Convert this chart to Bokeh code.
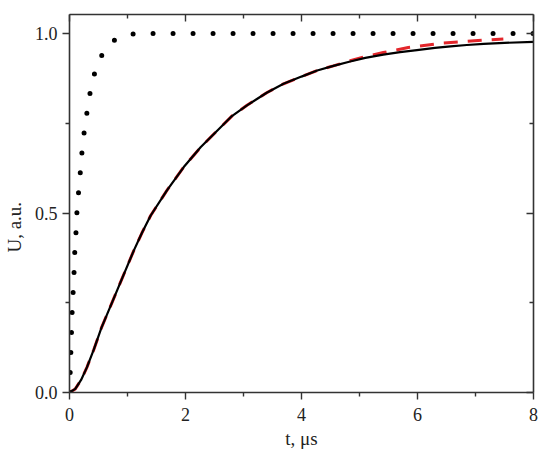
from bokeh.plotting import figure
from bokeh.models import LinearAxis, FixedTicker, Range1d, NumeralTickFormatter, CustomJSTickFormatter
from bokeh.embed import file_html
from bokeh.resources import INLINE

# fast response (dotted)
t_fast = [0, 0.017, 0.035, 0.046, 0.064, 0.08, 0.092, 0.115, 0.13, 0.16, 0.19, 0.22,
          0.26, 0.31, 0.37, 0.45, 0.58, 0.68, 0.8, 0.95, 1.14, 1.5, 2.0, 3.0, 4.0,
          5.0, 6.0, 7.0, 8.0]
u_fast = [0, 0.08, 0.173, 0.228, 0.284, 0.34, 0.398, 0.454, 0.51, 0.565, 0.62, 0.68,
          0.735, 0.79, 0.85, 0.90, 0.948, 0.968, 0.985, 0.995, 1.0, 1.0, 1.0, 1.0, 1.0,
          1.0, 1.0, 1.0, 1.0]

# measured signal (black)
t_meas = [0, 0.1, 0.2, 0.3, 0.42, 0.55, 0.76, 0.9, 1.11, 1.25, 1.4, 1.68, 1.97, 2.26,
          2.55, 2.8, 3.06, 3.4, 3.69, 4.0, 4.27, 4.55, 4.84, 5.1, 5.41, 5.7, 5.99, 6.3,
          6.57, 6.85, 7.14, 7.5, 8.0]
u_meas = [0, 0.01, 0.035, 0.07, 0.12, 0.18, 0.261, 0.315, 0.396, 0.445, 0.493, 0.563,
          0.628, 0.683, 0.73, 0.77, 0.80, 0.835, 0.86, 0.88, 0.897, 0.91, 0.922, 0.932,
          0.941, 0.948, 0.954, 0.96, 0.964, 0.968, 0.971, 0.974, 0.977]

# fitted curve (red dashed)
t_fit = [0, 0.1, 0.2, 0.3, 0.42, 0.55, 0.76, 0.9, 1.11, 1.25, 1.4, 1.68, 1.97, 2.26,
         2.55, 2.8, 3.06, 3.4, 3.69, 4.0, 4.27, 4.55, 4.84, 5.1, 5.41, 5.84, 6.41,
         6.98, 7.48]
u_fit = [0, 0.01, 0.035, 0.07, 0.12, 0.18, 0.261, 0.315, 0.396, 0.445, 0.493, 0.563,
         0.628, 0.683, 0.73, 0.77, 0.80, 0.835, 0.86, 0.88, 0.897, 0.91, 0.924, 0.936,
         0.947, 0.961, 0.973, 0.98, 0.985]

x_ticks = [0, 2, 4, 6, 8]
x_minor = [1, 3, 5, 7]
y_ticks = [0.0, 0.5, 1.0]
y_minor = [0.25, 0.75]

SERIF = "Liberation Serif"
AX = "#333333"
NB = "\u00a0"

p = figure(frame_width=464, frame_height=378,
           x_range=Range1d(0, 8), y_range=Range1d(0, 1.053),
           output_backend="svg", toolbar_location=None,
           x_axis_location=None, y_axis_location=None,
           min_border_left=69, min_border_top=14, min_border_right=15,
           min_border_bottom=58)
p.xgrid.visible = False
p.ygrid.visible = False
p.outline_line_color = None
p.background_fill_color = "white"
p.border_fill_color = "white"


def make_axis(ticks, minor, inward, show_labels, fmt=None, label=None,
              standoff=5, label_standoff=7):
    ax = LinearAxis(ticker=FixedTicker(ticks=ticks, minor_ticks=minor))
    ax.axis_line_color = AX
    ax.axis_line_width = 1.6
    ax.major_tick_line_color = AX
    ax.minor_tick_line_color = AX
    ax.major_tick_line_width = 1.4
    ax.minor_tick_line_width = 1.4
    if inward:
        ax.major_tick_in, ax.major_tick_out = 7, 0
        ax.minor_tick_in, ax.minor_tick_out = 4, 0
    else:
        ax.major_tick_in, ax.major_tick_out = 0, 7
        ax.minor_tick_in, ax.minor_tick_out = 0, 4
    if show_labels:
        ax.major_label_text_font = SERIF
        ax.major_label_text_font_size = "18px"
        ax.major_label_text_color = "#222222"
        ax.major_label_standoff = standoff
    else:
        ax.formatter = CustomJSTickFormatter(code="return ''")
        ax.major_label_text_font_size = "1px"
        ax.major_label_standoff = 0
    if fmt is not None:
        ax.formatter = fmt
    if label is not None:
        ax.axis_label = label
        ax.axis_label_text_font = SERIF
        ax.axis_label_text_font_size = "19px"
        ax.axis_label_text_font_style = "normal"
        ax.axis_label_text_color = "#222222"
        ax.axis_label_standoff = label_standoff
    return ax


p.add_layout(make_axis(x_ticks, x_minor, False, True, label="t, μs",
                       standoff=8, label_standoff=4), "below")
p.add_layout(make_axis(y_ticks, y_minor, False, True, NumeralTickFormatter(format="0.0"),
                       label="U, a.u." + NB * 10), "left")
p.add_layout(make_axis(x_ticks, x_minor, True, False), "above")
p.add_layout(make_axis(y_ticks, y_minor, True, False), "right")

p.line(t_fit, u_fit, line_color="#e3262b", line_width=3, line_dash="14 10")
p.line(t_meas, u_meas, line_color="black", line_width=2.2)
p.line(t_fast, u_fast, line_color="black", line_width=5, line_dash="0 20",
       line_cap="round")

open("out.html", "w").write(file_html(p, INLINE))
